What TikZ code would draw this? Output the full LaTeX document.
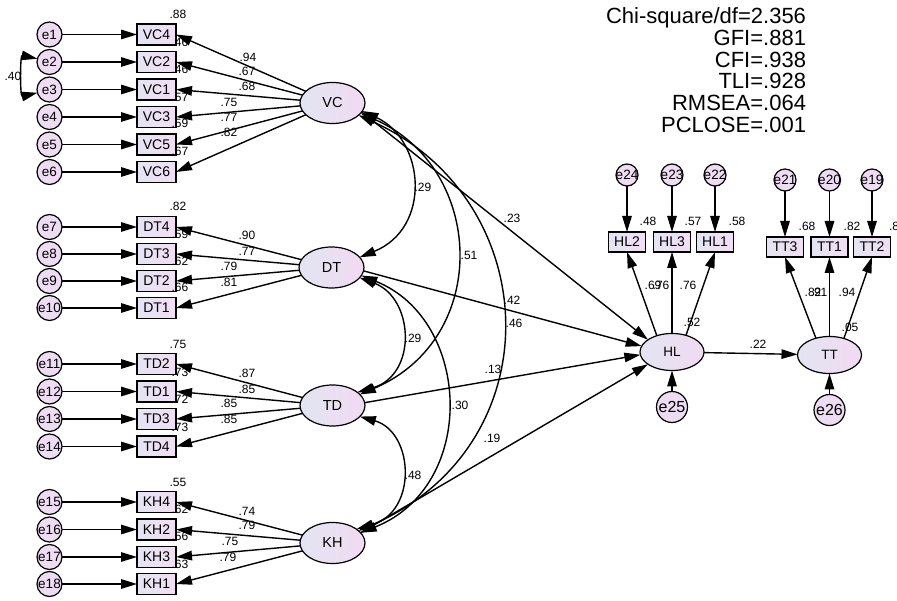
\documentclass[tikz,border=0pt]{standalone}
\usepackage{fontspec}
\setmainfont{Liberation Sans}
\usetikzlibrary{shapes.geometric,arrows.meta}

\definecolor{latL}{RGB}{226,229,242}
\definecolor{latR}{RGB}{242,218,242}
\definecolor{boxL}{RGB}{228,228,242}
\definecolor{boxR}{RGB}{242,222,244}
\definecolor{errC}{RGB}{238,220,242}

\begin{document}
\begin{tikzpicture}[x=1pt,y=-1pt,
  every node/.style={inner sep=0pt,outer sep=0pt},
  >={Triangle[length=16pt,width=9.5pt]},
  errc/.style={circle,draw=black,line width=1.2pt,fill=errC,minimum size=25pt},
  errsm/.style={errc,minimum size=22pt},
  errbig/.style={errc,minimum size=31pt},
  etxt/.style={font=\fontsize{13.5}{14}\selectfont},
  ebig/.style={font=\fontsize{16}{16}\selectfont},
  obsv/.style={rectangle,draw=black,line width=1.2pt,left color=boxL,right color=boxR,
               minimum width=39pt,minimum height=21pt,font=\fontsize{14}{14}\selectfont},
  obsr/.style={obsv,minimum width=37pt,minimum height=20pt},
  latv/.style={ellipse,draw=black,line width=1.2pt,left color=latL,right color=latR,
               minimum width=65pt,minimum height=41pt,font=\fontsize{14.5}{14.5}\selectfont},
  latr/.style={latv,minimum width=64pt,minimum height=37pt,font=\fontsize{13.5}{13.5}\selectfont},
  est/.style={font=\fontsize{12}{12}\selectfont},
  fitstat/.style={font=\fontsize{22}{22}\selectfont,anchor=base east},
  link/.style={->,line width=1.4pt},
  covar/.style={<->,line width=1.4pt}
]
\useasboundingbox (0,0) rectangle (897,601);

% ---------- measurement model, left side ----------
\foreach \b/\e/\y in {VC4/e1/34.5,VC2/e2/62,VC1/e3/89.5,VC3/e4/117,VC5/e5/144.5,VC6/e6/172,
                      DT4/e7/227,DT3/e8/254,DT2/e9/281,DT1/e10/308,
                      TD2/e11/364,TD1/e12/391.5,TD3/e13/419,TD4/e14/446.5,
                      KH4/e15/502,KH2/e16/529.5,KH3/e17/557,KH1/e18/584}{
  \node[errc,label={[etxt]center:\e}] (\e) at (49.5,\y) {};
  \node[obsv] (\b) at (156.5,\y) {\b};
}

\node[latv] (VC) at (332.5,103) {VC};
\node[latv] (DT) at (331.5,267.5) {DT};
\node[latv] (TD) at (332.5,405.5) {TD};
\node[latv] (KH) at (332.5,543) {KH};

% ---------- structural part, right side ----------
\node[latr] (HL) at (672,352) {HL};
\node[latr] (TT) at (829.5,355) {TT};

\foreach \b/\e/\x in {HL2/e24/627,HL3/e23/672,HL1/e22/715}{
  \node[errsm,label={[etxt]center:\e}] (\e) at (\x,175) {};
  \node[obsr] (\b) at (\x,242) {\b};
}
\foreach \b/\e/\x in {TT3/e21/785,TT1/e20/829.5,TT2/e19/872}{
  \node[errsm,label={[etxt]center:\e}] (\e) at (\x,180) {};
  \node[obsr] (\b) at (\x,247) {\b};
}
\node[errbig,label={[ebig]center:e25}] (e25) at (672,407) {};
\node[errbig,label={[ebig]center:e26}] (e26) at (829.5,410) {};

% ---------- estimates ----------
\foreach \t/\x/\y [count=\i] in {
  .88/178/14,.46/180/42,.46/180/69,.57/180/97,.59/180/123,.67/180/151,
  .94/248/57,.67/247/71,.68/247/86,.75/229/102,.77/229/117,.82/229/132,
  .82/178/206,.59/180/234,.62/180/261,.66/180/287,
  .90/247/235,.77/247/251,.79/229/266,.81/229/282,
  .75/178/344,.73/180/372,.72/180/399,.73/180/427,
  .87/247/373,.85/247/389,.85/229/403,.85/229/419,
  .55/178/482,.62/180/509,.56/180/536,.63/180/564,
  .74/247/511,.79/247/525,.75/230/541,.79/228/557,
  .40/13/76,
  .29/423/187,.51/469/255,.23/512/218,.42/512/300,.46/514/323,
  .29/413/338,.13/493/369,.30/460/405,.19/492/438,.48/413/475,
  .48/648/221,.57/693/221,.58/737/221,
  .69/653/285,.76/661/285,.76/688/285,.52/692/322,.22/758/344,
  .68/807/226,.82/852/226,
  .82/813/292,.91/819/292,.94/847/292,.05/850/327}{
  \node[est] (est\i) at (\x,\y) {\t};
}
\node[est,anchor=west] (estTT2) at (889,226) {.8};

% ---------- fit indices ----------
\node[fitstat] (fit1) at (806,23.5) {Chi-square/df=2.356};
\node[fitstat] (fit2) at (806,45.3) {GFI=.881};
\node[fitstat] (fit3) at (806,67.1) {CFI=.938};
\node[fitstat] (fit4) at (806,88.9) {TLI=.928};
\node[fitstat] (fit5) at (806,110.7) {RMSEA=.064};
\node[fitstat] (fit6) at (806,132.5) {PCLOSE=.001};

% ---------- error terms to indicators ----------
\foreach \e/\b in {e1/VC4,e2/VC2,e3/VC1,e4/VC3,e5/VC5,e6/VC6,
                   e7/DT4,e8/DT3,e9/DT2,e10/DT1,
                   e11/TD2,e12/TD1,e13/TD3,e14/TD4,
                   e15/KH4,e16/KH2,e17/KH3,e18/KH1,
                   e24/HL2,e23/HL3,e22/HL1,e21/TT3,e20/TT1,e19/TT2,
                   e25/HL,e26/TT}{
  \draw[link] (\e) -- (\b);
}

% ---------- loadings ----------
\foreach \l/\b in {VC/VC4,VC/VC2,VC/VC1,VC/VC3,VC/VC5,VC/VC6,
                   DT/DT4,DT/DT3,DT/DT2,DT/DT1,
                   TD/TD2,TD/TD1,TD/TD3,TD/TD4,
                   KH/KH4,KH/KH2,KH/KH3,KH/KH1}{
  \draw[link] (\l) -- (\b.east);
}
\draw[link] (HL.133) -- (HL2.south);
\draw[link] (HL.north) -- (HL3.south);
\draw[link] (HL.50) -- (HL1.south);
\draw[link] (TT.129) -- (TT3.south);
\draw[link] (TT.north) -- (TT1.south);
\draw[link] (TT.49) -- (TT2.south);

% ---------- structural paths ----------
\draw[link] (VC.-17) -- (HL.153);
\draw[link] (DT.-6) -- (HL.169);
\draw[link] (TD.5) -- (HL.185);
\draw[link] (KH.20) -- (HL.207);
\draw[link] (HL) -- (TT);

% ---------- covariances ----------
\draw[covar] (e2.165) .. controls (20,55) and (20,97) .. (e3.195);
\draw[covar] (VC.-15) .. controls (425,140) and (432,228) .. (DT.20);
\draw[covar] (VC.-20) .. controls (485,168) and (492,338) .. (TD.22);
\draw[covar] (VC.-25) .. controls (545,200) and (555,444) .. (KH.25);
\draw[covar] (DT.-20) .. controls (414,298) and (418,375) .. (TD.28);
\draw[covar] (DT.-15) .. controls (472,320) and (478,486) .. (KH.20);
\draw[covar] (TD.-22) .. controls (414,432) and (418,512) .. (KH.30);
\end{tikzpicture}
\end{document}
